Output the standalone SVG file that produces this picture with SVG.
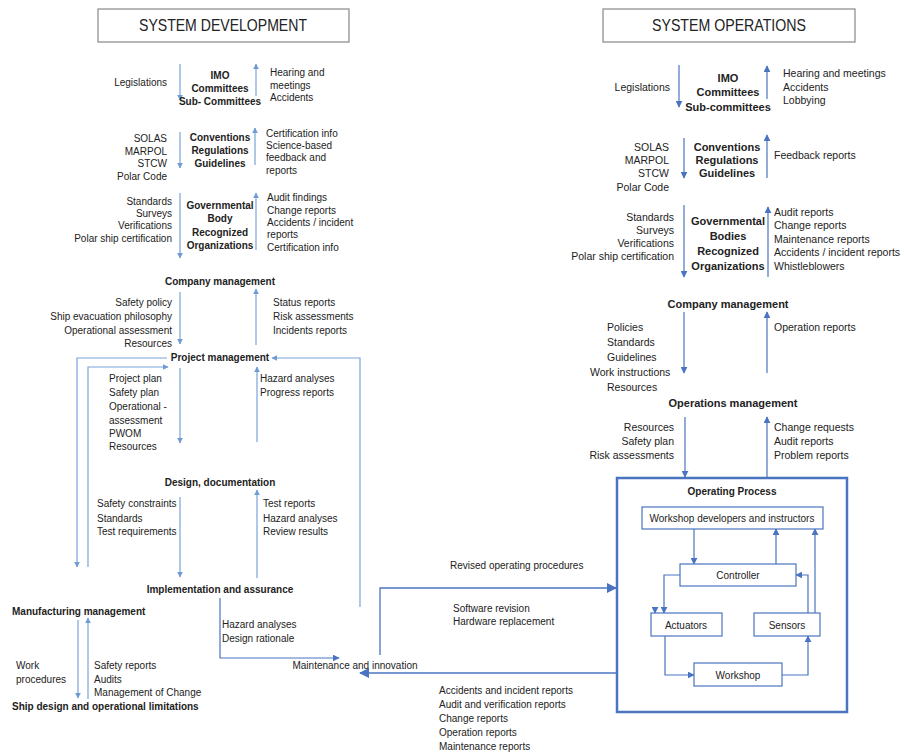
<svg xmlns="http://www.w3.org/2000/svg" width="904" height="756" viewBox="0 0 904 756">
<defs>
<marker id="al" viewBox="0 0 10 10" refX="9" refY="5" markerWidth="6" markerHeight="6" markerUnits="userSpaceOnUse" orient="auto"><path d="M0 0L10 5L0 10z" fill="#6f9bd4"/></marker>
<marker id="ad" viewBox="0 0 10 10" refX="9" refY="5" markerWidth="7" markerHeight="7" markerUnits="userSpaceOnUse" orient="auto"><path d="M0 0L10 5L0 10z" fill="#4a74c0"/></marker>
<marker id="ab" viewBox="0 0 10 10" refX="9" refY="5" markerWidth="10" markerHeight="10" markerUnits="userSpaceOnUse" orient="auto"><path d="M0 0L10 5L0 10z" fill="#4a74c0"/></marker>
</defs>
<style>
text{font-family:"Liberation Sans",Arial,sans-serif;fill:#222;font-size:10px}
.t{font-size:16.5px}
.b{font-weight:bold}
.c{text-anchor:middle}
.r{text-anchor:end}
.R{font-size:10.5px}
.rb{font-size:11px;font-weight:bold}
.ll{fill:none;stroke:#7aa3d8;stroke-width:1.2;marker-end:url(#al)}
.ln{fill:none;stroke:#7aa3d8;stroke-width:1.2}
.dl{fill:none;stroke:#4a74c0;stroke-width:1.2;marker-end:url(#ad)}
.bl{fill:none;stroke:#4a74c0;stroke-width:1.3;marker-end:url(#ab)}
.box{fill:#fff;stroke:#4a74c0;stroke-width:1.2}
.tb{fill:#fff;stroke:#888;stroke-width:1.2}
</style>
<rect width="904" height="756" fill="#fff"/>

<g id="title-dev"><rect class="tb" x="98" y="9" width="251" height="33"/><text class="t c" x="223" y="31" textLength="168" lengthAdjust="spacingAndGlyphs">SYSTEM DEVELOPMENT</text></g>
<g id="title-ops"><rect class="tb" x="603" y="9" width="252" height="33"/><text class="t c" x="729" y="31" textLength="154" lengthAdjust="spacingAndGlyphs">SYSTEM OPERATIONS</text></g>

<g id="connectors">
<!-- left -->
<path class="ll" d="M180 64V100"/><path class="ll" d="M256 96V64"/>
<path class="ll" d="M180 132V168"/><path class="ll" d="M255 165V128"/>
<path class="ll" d="M180 193V258"/><path class="ll" d="M256 250V193"/>
<path class="ll" d="M180 292V344"/><path class="ll" d="M256 345V289"/>
<path class="ll" d="M167 358H77V567"/>
<path class="ll" d="M88 567V367H168"/>
<path class="ll" d="M360 607V358H272"/>
<path class="ll" d="M180 368V443"/><path class="ll" d="M257 442V367"/>
<path class="ll" d="M180 497V577"/><path class="ll" d="M257 578V490"/>
<path class="dl" d="M220 598V658H339"/>
<path class="ll" d="M78 620V698"/><path class="ll" d="M88 699V618"/>
<path class="bl" d="M617 673H360"/>
<path class="bl" d="M380 655V588H616"/>
<!-- right -->
<path class="dl" d="M679 65V107"/><path class="dl" d="M767 99V66"/>
<path class="dl" d="M684 138V178"/><path class="dl" d="M767 178V135"/>
<path class="dl" d="M684 205V277"/><path class="dl" d="M768 277V207"/>
<path class="dl" d="M684 312V373"/><path class="dl" d="M767 373V312"/>
<path class="dl" d="M685 417V477"/><path class="dl" d="M767 477V417"/>
<!-- inside operating process -->
<path class="dl" d="M694 529V564"/>
<path class="dl" d="M776 564V529"/>
<path class="dl" d="M815 613V529"/>
<path class="dl" d="M808 613V575H796"/>
<path class="dl" d="M680 575H664V613"/>
<path class="dl" d="M655 607V613"/>
<path class="dl" d="M665 636V675H694"/>
<path class="dl" d="M782 675H808V636"/>
</g>

<g id="dev-imo"><text class="b c" x="220" y="79">IMO</text><text class="b c" x="220" y="92">Committees</text><text class="b c" x="220" y="105">Sub- Committees</text></g>
<g id="dev-imo-in"><text class="r" x="167" y="86">Legislations</text></g>
<g id="dev-imo-out"><text x="270" y="76">Hearing and</text><text x="270" y="89">meetings</text><text x="270" y="101">Accidents</text></g>

<g id="dev-conv"><text class="b c" x="220" y="141">Conventions</text><text class="b c" x="220" y="154">Regulations</text><text class="b c" x="220" y="167">Guidelines</text></g>
<g id="dev-conv-in"><text class="r" x="167" y="142">SOLAS</text><text class="r" x="167" y="155">MARPOL</text><text class="r" x="167" y="167">STCW</text><text class="r" x="167" y="180">Polar Code</text></g>
<g id="dev-conv-out"><text x="266" y="137">Certification info</text><text x="266" y="149">Science-based</text><text x="266" y="161">feedback and</text><text x="266" y="174">reports</text></g>

<g id="dev-gov"><text class="b c" x="220" y="209">Governmental</text><text class="b c" x="220" y="222">Body</text><text class="b c" x="220" y="236">Recognized</text><text class="b c" x="220" y="249">Organizations</text></g>
<g id="dev-gov-in"><text class="r" x="172" y="205">Standards</text><text class="r" x="172" y="217">Surveys</text><text class="r" x="172" y="229">Verifications</text><text class="r" x="172" y="242">Polar ship certification</text></g>
<g id="dev-gov-out"><text x="267" y="201">Audit findings</text><text x="267" y="214">Change reports</text><text x="267" y="226">Accidents / incident</text><text x="267" y="238">reports</text><text x="267" y="251">Certification info</text></g>

<g id="dev-company"><text class="b c" x="220" y="285">Company management</text></g>
<g id="dev-company-in"><text class="r" x="172" y="306">Safety policy</text><text class="r" x="172" y="320">Ship evacuation philosophy</text><text class="r" x="172" y="334">Operational assessment</text><text class="r" x="172" y="347">Resources</text></g>
<g id="dev-company-out"><text x="273" y="306">Status reports</text><text x="273" y="320">Risk assessments</text><text x="273" y="334">Incidents reports</text></g>

<g id="dev-project"><text class="b c" x="220" y="361">Project management</text></g>
<g id="dev-project-in"><text x="109" y="382">Project plan</text><text x="109" y="396">Safety plan</text><text x="109" y="410">Operational -</text><text x="109" y="424">assessment</text><text x="109" y="437">PWOM</text><text x="109" y="450">Resources</text></g>
<g id="dev-project-out"><text x="260" y="382">Hazard analyses</text><text x="260" y="396">Progress reports</text></g>

<g id="dev-design"><text class="b c" x="220" y="486">Design, documentation</text></g>
<g id="dev-design-in"><text x="97" y="507">Safety constraints</text><text x="97" y="522">Standards</text><text x="97" y="535">Test requirements</text></g>
<g id="dev-design-out"><text x="263" y="507">Test reports</text><text x="263" y="522">Hazard analyses</text><text x="263" y="535">Review results</text></g>

<g id="dev-impl"><text class="b c" x="220" y="593">Implementation and assurance</text></g>
<g id="dev-impl-out"><text x="222" y="628">Hazard analyses</text><text x="222" y="642">Design rationale</text></g>

<g id="dev-manuf"><text class="b" x="12" y="615">Manufacturing management</text></g>
<g id="dev-manuf-in"><text x="16" y="669">Work</text><text x="16" y="683">procedures</text></g>
<g id="dev-manuf-out"><text x="94" y="669">Safety reports</text><text x="94" y="683">Audits</text><text x="94" y="696">Management of Change</text></g>
<g id="dev-ship"><text class="b" x="12" y="710">Ship design and operational limitations</text></g>

<g id="maintenance"><text class="c" x="355" y="669">Maintenance and innovation</text></g>
<g id="revised"><text x="450" y="569">Revised operating procedures</text><text x="453" y="612">Software revision</text><text x="453" y="625">Hardware replacement</text></g>
<g id="feedback-reports"><text x="439" y="694">Accidents and incident reports</text><text x="439" y="708">Audit and verification reports</text><text x="439" y="722">Change reports</text><text x="439" y="736">Operation reports</text><text x="439" y="750">Maintenance reports</text></g>

<g id="ops-imo"><text class="rb c" x="728" y="82">IMO</text><text class="rb c" x="728" y="96">Committees</text><text class="rb c" x="728" y="111">Sub-committees</text></g>
<g id="ops-imo-in"><text class="R r" x="670" y="91">Legislations</text></g>
<g id="ops-imo-out"><text class="R" x="783" y="77">Hearing and meetings</text><text class="R" x="783" y="91">Accidents</text><text class="R" x="783" y="104">Lobbying</text></g>

<g id="ops-conv"><text class="rb c" x="727" y="151">Conventions</text><text class="rb c" x="727" y="164">Regulations</text><text class="rb c" x="727" y="177">Guidelines</text></g>
<g id="ops-conv-in"><text class="R r" x="669" y="151">SOLAS</text><text class="R r" x="669" y="164">MARPOL</text><text class="R r" x="669" y="177">STCW</text><text class="R r" x="669" y="191">Polar Code</text></g>
<g id="ops-conv-out"><text class="R" x="774" y="159">Feedback reports</text></g>

<g id="ops-gov"><text class="rb c" x="728" y="225">Governmental</text><text class="rb c" x="728" y="240">Bodies</text><text class="rb c" x="728" y="255">Recognized</text><text class="rb c" x="728" y="270">Organizations</text></g>
<g id="ops-gov-in"><text class="R r" x="674" y="221">Standards</text><text class="R r" x="674" y="234">Surveys</text><text class="R r" x="674" y="247">Verifications</text><text class="R r" x="674" y="260">Polar ship certification</text></g>
<g id="ops-gov-out"><text class="R" x="774" y="216">Audit reports</text><text class="R" x="774" y="229">Change reports</text><text class="R" x="774" y="243">Maintenance reports</text><text class="R" x="774" y="256">Accidents / incident reports</text><text class="R" x="774" y="270">Whistleblowers</text></g>

<g id="ops-company"><text class="rb c" x="728" y="308">Company management</text></g>
<g id="ops-company-in"><text class="R" x="607" y="331">Policies</text><text class="R" x="607" y="346">Standards</text><text class="R" x="607" y="361">Guidelines</text><text class="R" x="590" y="376">Work instructions</text><text class="R" x="607" y="391">Resources</text></g>
<g id="ops-company-out"><text class="R" x="774" y="331">Operation reports</text></g>

<g id="ops-opsmgmt"><text class="rb c" x="733" y="407">Operations management</text></g>
<g id="ops-opsmgmt-in"><text class="R r" x="674" y="431">Resources</text><text class="R r" x="674" y="445">Safety plan</text><text class="R r" x="674" y="459">Risk assessments</text></g>
<g id="ops-opsmgmt-out"><text class="R" x="774" y="431">Change requests</text><text class="R" x="774" y="445">Audit reports</text><text class="R" x="774" y="459">Problem reports</text></g>

<g id="operating-process"><rect x="617" y="478" width="230" height="234" fill="none" stroke="#4a74c0" stroke-width="2.5"/><text class="b c" x="732" y="495">Operating Process</text></g>
<g id="workshop-devs"><rect class="box" x="642" y="507" width="181" height="22"/><text class="c" x="732" y="522">Workshop developers and instructors</text></g>
<g id="controller"><rect class="box" x="680" y="564" width="116" height="22"/><text class="c" x="738" y="579">Controller</text></g>
<g id="actuators"><rect class="box" x="651" y="613" width="71" height="23"/><text class="c" x="686" y="629">Actuators</text></g>
<g id="sensors"><rect class="box" x="754" y="613" width="66" height="23"/><text class="c" x="787" y="629">Sensors</text></g>
<g id="workshop"><rect class="box" x="694" y="663" width="88" height="23"/><text class="c" x="738" y="679">Workshop</text></g>
</svg>
